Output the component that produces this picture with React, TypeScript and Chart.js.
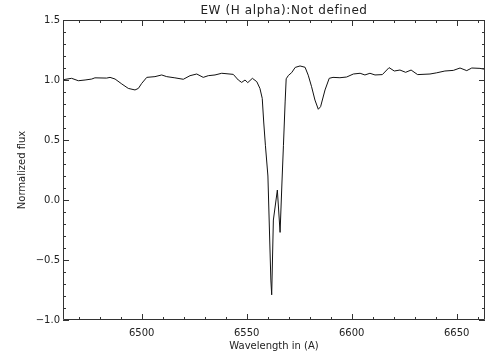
import React, { useEffect, useRef } from 'react';
import { Chart, registerables } from 'chart.js';

Chart.register(...registerables);

// Wavelength (Å) of each sample
const wavelengths = [
  6462.5, 6463.5, 6466.6, 6469.8, 6473.0, 6476.2, 6477.7, 6483.3, 6484.9, 6487.3,
  6490.5, 6493.6, 6496.8, 6498.4, 6500.0, 6502.4, 6506.3, 6509.5, 6511.9, 6515.8,
  6519.8, 6523.0, 6526.2, 6529.3, 6531.7, 6534.9, 6538.1, 6543.6, 6546.0, 6547.6,
  6549.2, 6550.5, 6552.7, 6554.8, 6556.3, 6557.4, 6558.1, 6558.9, 6560.1, 6561.5,
  6561.9, 6562.7, 6564.6, 6565.9, 6566.8, 6567.5, 6568.3, 6568.8, 6569.9, 6571.4,
  6573.1, 6575.4, 6577.8, 6579.3, 6580.9, 6582.5, 6584.1, 6585.2, 6587.3, 6589.3,
  6591.1, 6594.4, 6597.6, 6600.8, 6604.0, 6606.3, 6608.7, 6611.1, 6614.6, 6617.8,
  6620.3, 6623.0, 6625.7, 6628.3, 6631.4, 6637.3, 6640.5, 6644.4, 6648.4, 6651.6,
  6654.8, 6657.2, 6661.1, 6663.5,
];

// Normalized flux at each wavelength
const flux = [
  1.0, 1.005, 1.014, 0.994, 1.0, 1.008, 1.018, 1.016, 1.022, 1.008,
  0.967, 0.93, 0.917, 0.93, 0.972, 1.022, 1.028, 1.042, 1.028, 1.018,
  1.006, 1.036, 1.05, 1.022, 1.036, 1.042, 1.056, 1.047, 1.0, 0.98,
  1.0, 0.978, 1.014, 0.986, 0.93, 0.847, 0.65, 0.456, 0.2, -0.667,
  -0.79, -0.167, 0.083, -0.27, 0.15, 0.456, 0.817, 1.01, 1.039, 1.061,
  1.105, 1.117, 1.106, 1.04, 0.944, 0.833, 0.756, 0.778, 0.917, 1.014,
  1.022, 1.019, 1.025, 1.05, 1.056, 1.042, 1.056, 1.042, 1.045, 1.103,
  1.075, 1.083, 1.064, 1.083, 1.045, 1.05, 1.06, 1.075, 1.08, 1.1,
  1.078, 1.1, 1.097, 1.089,
];

const xRange = [6462.5, 6663.5];
const yRange = [-1.0, 1.5];
const xTickLabels = [6500, 6550, 6600, 6650];
const yTickLabels = [-1.0, -0.5, 0.0, 0.5, 1.0, 1.5];
const xMajorStep = 50;
const xMinorStep = 10;
const yMajorStep = 0.5;
const yMinorStep = 0.1;

const titleText = 'EW (H alpha):Not defined';
const xTitle = 'Wavelength in (A)';
const yTitle = 'Normalized flux';

const FONT = 'DejaVu Sans';
const INK = '#222';

const idlFrame = {
  id: 'idlFrame',
  afterDraw(chart: any) {
    const { ctx, chartArea: a, scales } = chart;
    const xs = scales.x;
    const ys = scales.y;
    ctx.save();
    ctx.strokeStyle = '#333';
    ctx.lineWidth = 1;
    ctx.beginPath();
    ctx.rect(Math.round(a.left) + 0.5, Math.round(a.top) + 0.5, Math.round(a.right - a.left) - 1, Math.round(a.bottom - a.top) - 1);
    const x0 = Math.ceil(xRange[0] / xMinorStep) * xMinorStep;
    for (let v = x0; v <= xRange[1] + 1e-9; v += xMinorStep) {
      const major = Math.abs(v / xMajorStep - Math.round(v / xMajorStep)) < 1e-6;
      const len = major ? 6 : 3;
      const px = Math.round(xs.getPixelForValue(v)) + 0.5;
      ctx.moveTo(px, a.bottom);
      ctx.lineTo(px, a.bottom - len);
      ctx.moveTo(px, a.top);
      ctx.lineTo(px, a.top + len);
    }
    const n = Math.round((yRange[1] - yRange[0]) / yMinorStep);
    for (let i = 0; i <= n; i++) {
      const v = yRange[0] + i * yMinorStep;
      const major = Math.abs(v / yMajorStep - Math.round(v / yMajorStep)) < 1e-6;
      const len = major ? 6 : 3;
      const py = Math.round(ys.getPixelForValue(v)) + 0.5;
      ctx.moveTo(a.left, py);
      ctx.lineTo(a.left + len, py);
      ctx.moveTo(a.right, py);
      ctx.lineTo(a.right - len, py);
    }
    ctx.stroke();
    ctx.fillStyle = INK;
    ctx.font = `12px "${FONT}"`;
    (ctx as any).letterSpacing = '0.6px';
    ctx.textAlign = 'center';
    ctx.textBaseline = 'middle';
    ctx.fillText(titleText, 284, 11);
    ctx.restore();
  },
};

export default function App() {
  const ref = useRef<HTMLCanvasElement | null>(null);

  useEffect(() => {
    if (!ref.current) return;
    const data = wavelengths.map((w, i) => ({ x: w, y: flux[i] }));
    const chart = new Chart(ref.current, {
      type: 'scatter',
      data: {
        datasets: [
          {
            data,
            showLine: true,
            borderColor: '#111',
            borderWidth: 1,
            pointRadius: 0,
            tension: 0,
          },
        ],
      },
      options: {
        animation: false,
        responsive: false,
        layout: { padding: { left: 0, top: 20, right: 19, bottom: 0 } },
        plugins: { legend: { display: false }, title: { display: false }, tooltip: { enabled: false } },
        scales: {
          x: {
            type: 'linear',
            min: xRange[0],
            max: xRange[1],
            afterBuildTicks: (s: any) => { s.ticks = xTickLabels.map((v) => ({ value: v })); },
            afterFit: (s: any) => { s.height = 40; },
            grid: { display: false, drawTicks: false },
            border: { display: false },
            ticks: {
              autoSkip: false,
              maxRotation: 0,
              padding: 7,
              color: INK,
              font: { family: FONT, size: 10 },
              callback: (v: any) => String(v),
            },
            title: {
              display: true,
              text: xTitle,
              color: INK,
              font: { family: FONT, size: 10 },
              padding: { top: 0, bottom: 8 },
            },
          },
          y: {
            type: 'linear',
            min: yRange[0],
            max: yRange[1],
            afterBuildTicks: (s: any) => { s.ticks = yTickLabels.map((v) => ({ value: v })); },
            afterFit: (s: any) => { s.width = 63; },
            grid: { display: false, drawTicks: false },
            border: { display: false },
            ticks: {
              autoSkip: false,
              padding: 3,
              color: INK,
              font: { family: FONT, size: 10 },
              callback: (v: any) => {
                const s = Number(v).toFixed(1);
                return s.startsWith('-') ? '\u2212' + s.slice(1) : s;
              },
            },
            title: {
              display: true,
              text: yTitle,
              color: INK,
              font: { family: FONT, size: 10 },
              padding: { top: 16, bottom: 0 },
            },
          },
        },
      },
      plugins: [idlFrame],
    });
    return () => chart.destroy();
  }, []);

  return (
    <div style={{ position: 'fixed', left: 0, top: 0, width: 504, height: 360, background: '#fff' }}>
      <canvas ref={ref} width={504} height={360} style={{ display: 'block', width: 504, height: 360 }} />
    </div>
  );
}
